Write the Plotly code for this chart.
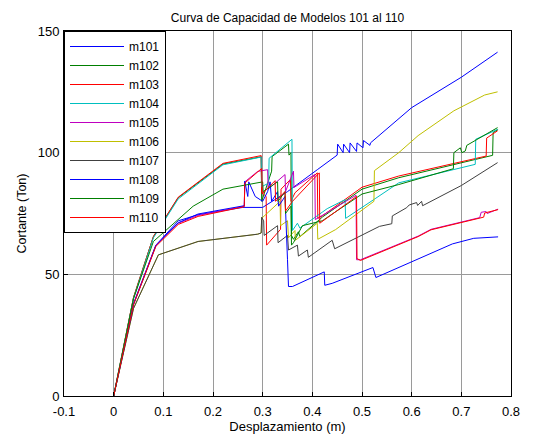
import plotly.graph_objects as go

# ---------------- data ----------------
series_names = ["m101", "m102", "m103", "m104", "m105", "m106", "m107", "m108", "m109", "m110"]
series_colors = ["#0000FF", "#007F00", "#FF0000", "#00BFBF", "#BF00BF", "#BFBF00", "#404040", "#0000FF", "#007F00", "#FF0000"]

m101_x = [0, 0.04, 0.085, 0.13, 0.17, 0.26, 0.30, 0.35, 0.41, 0.45, 0.451, 0.462, 0.463, 0.475, 0.476, 0.489, 0.49, 0.502, 0.503, 0.516, 0.517, 0.60, 0.70, 0.773]
m101_y = [0, 38, 62, 72, 74.5, 77.5, 77.5, 84, 93, 99, 103.5, 100, 103.5, 100, 104, 100.5, 104, 102, 105, 103, 104, 118.5, 131, 141.3]

m102_x = [0, 0.04, 0.08, 0.13, 0.22, 0.297, 0.298, 0.318, 0.319, 0.352, 0.353, 0.357, 0.358, 0.362, 0.372, 0.375, 0.42, 0.5, 0.574, 0.763, 0.764, 0.774]
m102_y = [0, 40.5, 65.5, 81.5, 95.3, 98.3, 80, 92.4, 98.4, 103.5, 99, 100, 66, 64.4, 67.5, 65.5, 73.5, 85, 89.7, 98.9, 108.3, 109.5]

m103_x = [0, 0.04, 0.08, 0.13, 0.22, 0.297, 0.298, 0.307, 0.308, 0.336, 0.337, 0.356, 0.357, 0.365, 0.41, 0.411, 0.42, 0.5, 0.574, 0.75, 0.751, 0.773]
m103_y = [0, 40.5, 65.5, 81.7, 95.6, 98.8, 83.7, 82, 62, 68.5, 85, 89, 80, 83.5, 91.7, 73, 74, 85.8, 90.4, 98.6, 106, 109]

m104_x = [0, 0.04, 0.08, 0.13, 0.22, 0.297, 0.298, 0.312, 0.313, 0.359, 0.36, 0.37, 0.375, 0.41, 0.43, 0.466, 0.467, 0.528, 0.574, 0.728, 0.729, 0.773]
m104_y = [0, 40, 65, 81, 95, 98.2, 86, 87.5, 97.7, 105.5, 68, 71, 69, 74, 77, 80.7, 73, 81.3, 87.6, 95.2, 105.5, 109.6]

m105_x = [0, 0.04, 0.085, 0.13, 0.17, 0.263, 0.264, 0.29, 0.31, 0.311, 0.345, 0.346, 0.362, 0.363, 0.405, 0.406, 0.488, 0.489, 0.497, 0.613, 0.639, 0.737, 0.74, 0.75, 0.752, 0.774]
m105_y = [0, 37.8, 62, 71, 74.2, 78, 88, 92.3, 93, 85, 91, 84, 92.4, 85.7, 91, 72.5, 82.5, 56, 56, 65.7, 68.5, 73.3, 75.5, 75.8, 75, 76.8]

m106_x = [0, 0.04, 0.09, 0.17, 0.29, 0.297, 0.298, 0.335, 0.336, 0.35, 0.352, 0.365, 0.366, 0.41, 0.411, 0.447, 0.524, 0.525, 0.574, 0.613, 0.685, 0.747, 0.773]
m106_y = [0, 36, 58, 63.5, 66.5, 67, 73, 80, 70, 72, 65, 68, 64, 71, 64.4, 68.4, 80, 92.6, 100, 107, 117.2, 123.7, 125]

m107_x = [0, 0.04, 0.09, 0.17, 0.29, 0.297, 0.298, 0.302, 0.303, 0.33, 0.331, 0.35, 0.352, 0.37, 0.372, 0.39, 0.392, 0.44, 0.445, 0.535, 0.56, 0.561, 0.59, 0.595, 0.61, 0.612, 0.62, 0.622, 0.7, 0.773]
m107_y = [0, 36, 58, 63.5, 66.5, 67, 73.5, 72, 66, 70, 63, 66, 60, 62, 57.5, 60, 57, 64, 60.5, 69.7, 70.8, 74, 77.4, 78.5, 79.5, 78.3, 80, 78.2, 86.5, 95.9]

m108_x = [0, 0.04, 0.085, 0.13, 0.17, 0.263, 0.264, 0.27, 0.272, 0.285, 0.3, 0.31, 0.315, 0.318, 0.33, 0.332, 0.345, 0.348, 0.35, 0.352, 0.36, 0.424, 0.425, 0.44, 0.516, 0.522, 0.528, 0.6, 0.682, 0.725, 0.774]
m108_y = [0, 37.6, 61.8, 71.2, 74.8, 78.2, 88.3, 82, 88, 82, 80, 84, 88, 80, 84, 78, 82, 70, 56, 45, 45, 51, 45.5, 46.3, 52.6, 52.8, 48.7, 55.3, 62.5, 64.8, 65.4]

m109_x = [0, 0.04, 0.08, 0.16, 0.22, 0.3, 0.301, 0.33, 0.331, 0.345, 0.346, 0.357, 0.358, 0.362, 0.38, 0.42, 0.5, 0.574, 0.684, 0.685, 0.698, 0.701, 0.708, 0.711, 0.75, 0.773]
m109_y = [0, 40, 63.5, 78, 85, 88, 84, 88, 80, 84, 75, 78, 62, 63, 70, 72, 83, 86.9, 93.4, 100, 102, 100, 100.7, 103, 107.6, 110.3]

m110_x = [0, 0.04, 0.085, 0.13, 0.17, 0.263, 0.264, 0.298, 0.299, 0.325, 0.326, 0.345, 0.346, 0.36, 0.414, 0.415, 0.489, 0.49, 0.497, 0.613, 0.639, 0.737, 0.745, 0.747, 0.774]
m110_y = [0, 37.5, 61.5, 70.5, 73.8, 77.8, 87.5, 93.5, 83, 88.5, 80, 84, 76, 80, 91.7, 71, 82, 56.5, 55.7, 65.5, 68.3, 73.1, 73.5, 75.2, 76.6]

x_tick_vals = [-0.1, 0, 0.1, 0.2, 0.3, 0.4, 0.5, 0.6, 0.7, 0.8]
x_tick_text = ["-0.1", "0", "0.1", "0.2", "0.3", "0.4", "0.5", "0.6", "0.7", "0.8"]
y_tick_vals = [0, 50, 100, 150]
y_tick_text = ["0", "50", "100", "150"]

title_text = "Curva de Capacidad de Modelos 101 al 110"
x_label = "Desplazamiento (m)"
y_label = "Cortante (Ton)"

# ---------------- figure ----------------
all_x = [m101_x, m102_x, m103_x, m104_x, m105_x, m106_x, m107_x, m108_x, m109_x, m110_x]
all_y = [m101_y, m102_y, m103_y, m104_y, m105_y, m106_y, m107_y, m108_y, m109_y, m110_y]

FONT = "Liberation Sans, Arial, sans-serif"

fig = go.Figure()
for name, color, xs, ys in zip(series_names, series_colors, all_x, all_y):
    fig.add_trace(go.Scatter(x=xs, y=ys, mode="lines", name=name,
                             line=dict(color=color, width=1)))

axis_common = dict(
    showline=True, mirror=True, linecolor="black", linewidth=1,
    ticks="inside", ticklen=4, tickcolor="black",
    showgrid=True, gridcolor="#9a9a9a", gridwidth=1,
    zeroline=False, automargin=False,
    tickfont=dict(family=FONT, size=13, color="black"),
)

fig.update_layout(
    width=539, height=434,
    margin=dict(l=64, r=28, t=31, b=38, autoexpand=False),
    paper_bgcolor="white", plot_bgcolor="white",
    font=dict(family=FONT, size=13, color="black"),
    title=dict(text=title_text, x=0.5, xref="paper", y=1 - 18 / 434, yref="container",
               xanchor="center", yanchor="middle", font=dict(family=FONT, size=12)),
    xaxis=dict(range=[-0.1, 0.8], tickvals=x_tick_vals, ticktext=x_tick_text,
               ticklabelstandoff=3,
               title=dict(text=x_label, standoff=3, font=dict(family=FONT, size=13)),
               **axis_common),
    yaxis=dict(range=[0, 150], tickvals=y_tick_vals, ticktext=y_tick_text,
               ticklabelstandoff=1,
               title=dict(text=y_label, standoff=8, font=dict(family=FONT, size=12.5)),
               **axis_common),
    legend=dict(x=0, y=1, xanchor="left", yanchor="top", xref="paper", yref="paper",
                bordercolor="black", borderwidth=1, bgcolor="white",
                font=dict(family=FONT, size=12), tracegroupgap=0, itemwidth=54),
    showlegend=True,
)

fig.write_html("out.html")
